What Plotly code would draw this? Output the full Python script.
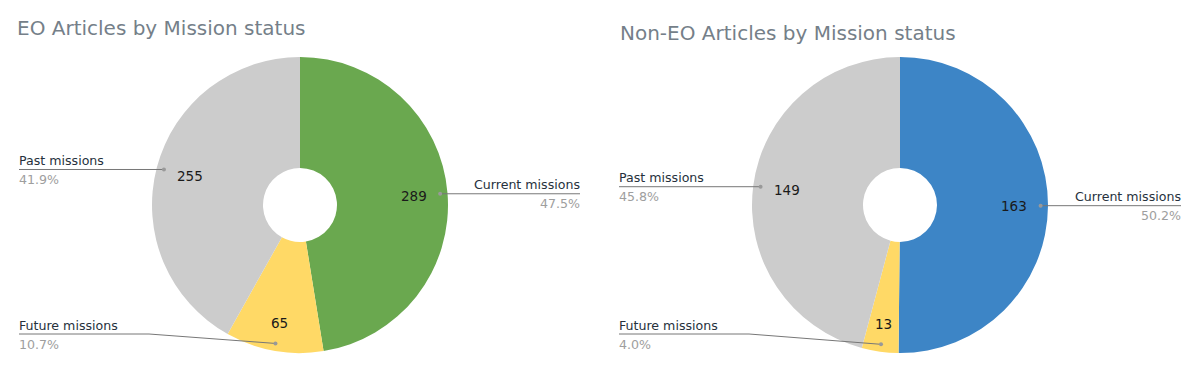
import math
import plotly.graph_objects as go

categories = ["Current missions", "Future missions", "Past missions"]
eo_values = [289, 65, 255]
non_eo_values = [163, 13, 149]
colors_eo = ["#6aa84f", "#ffd966", "#cccccc"]
colors_non_eo = ["#3d85c6", "#ffd966", "#cccccc"]
titles = ["EO Articles by Mission status", "Non-EO Articles by Mission status"]

W, H = 1201, 371
FONT = "DejaVu Sans"

# pie geometry in pixels
pies = [
    dict(values=eo_values, colors=colors_eo, cx=300, cy=205, r=148,
         left_edge=19, right_edge=580, title=titles[0], tx=17, ty=28),
    dict(values=non_eo_values, colors=colors_non_eo, cx=900, cy=205, r=148,
         left_edge=619, right_edge=1181, title=titles[1], tx=620, ty=33),
]

def px(x):
    return x / W

def py(y):
    return 1 - y / H

fig = go.Figure()
annotations = []
shapes = []

for p in pies:
    cx, cy, r = p["cx"], p["cy"], p["r"]
    fig.add_trace(go.Pie(
        labels=categories, values=p["values"], sort=False,
        direction="clockwise", rotation=0, hole=0.25,
        marker=dict(colors=p["colors"], line=dict(width=0)),
        textinfo="none", hoverinfo="label+value+percent",
        domain=dict(x=[px(cx - r), px(cx + r)], y=[py(cy + r), py(cy - r)]),
        showlegend=False,
    ))
    annotations.append(dict(
        x=px(p["tx"]), y=py(p["ty"]), xref="paper", yref="paper",
        text=p["title"], showarrow=False, xanchor="left", yanchor="middle",
        xshift=-2,
        font=dict(family=FONT, size=20, color="#757f89"),
    ))
    total = sum(p["values"])
    cum = 0.0
    for lab, v in zip(categories, p["values"]):
        frac = v / total
        mid = (cum + frac / 2) * 2 * math.pi
        cum += frac
        sx, sy = math.sin(mid), -math.cos(mid)
        # value label inside the slice
        rf = 0.77 if frac > 0.2 else 0.81
        vx, vy = cx + sx * r * rf, cy + sy * r * rf
        annotations.append(dict(
            x=px(vx), y=py(vy), xref="paper", yref="paper", text=str(v),
            showarrow=False, xanchor="center", yanchor="middle",
            font=dict(family=FONT, size=13.5, color="#1a1a1a"),
        ))
        # leader dot
        dx, dy = cx + sx * r * 0.95, cy + sy * r * 0.95
        ly = min(dy, 334)
        right = sx > 0.3
        edge = p["right_edge"] if right else p["left_edge"]
        if abs(ly - dy) > 0.5:
            knee = edge + (130 if not right else -130)
            path = f"M {px(edge)} {py(ly)} L {px(knee)} {py(ly)} L {px(dx)} {py(dy)}"
        else:
            path = f"M {px(edge)} {py(ly)} L {px(dx)} {py(dy)}"
        shapes.append(dict(type="path", xref="paper", yref="paper", path=path,
                           line=dict(color="#777777", width=1)))
        shapes.append(dict(type="circle", xref="paper", yref="paper",
                           x0=px(dx - 2), x1=px(dx + 2), y0=py(dy + 2), y1=py(dy - 2),
                           fillcolor="#999999", line=dict(width=0)))
        anchor = "right" if right else "left"
        shift = 2 if right else -2
        annotations.append(dict(
            x=px(edge), y=py(ly - 9), xref="paper", yref="paper", text=lab,
            showarrow=False, xanchor=anchor, yanchor="middle", xshift=shift,
            font=dict(family=FONT, size=12.6, color="#26313d"),
        ))
        annotations.append(dict(
            x=px(edge), y=py(ly + 10), xref="paper", yref="paper",
            text=f"{frac*100:.1f}%",
            showarrow=False, xanchor=anchor, yanchor="middle", xshift=shift,
            font=dict(family=FONT, size=12.6, color="#9e9e9e"),
        ))

fig.update_layout(
    width=W, height=H, margin=dict(l=0, r=0, t=0, b=0),
    paper_bgcolor="white", plot_bgcolor="white",
    annotations=annotations, shapes=shapes,
    font=dict(family=FONT),
)

fig.write_html("out.html")
